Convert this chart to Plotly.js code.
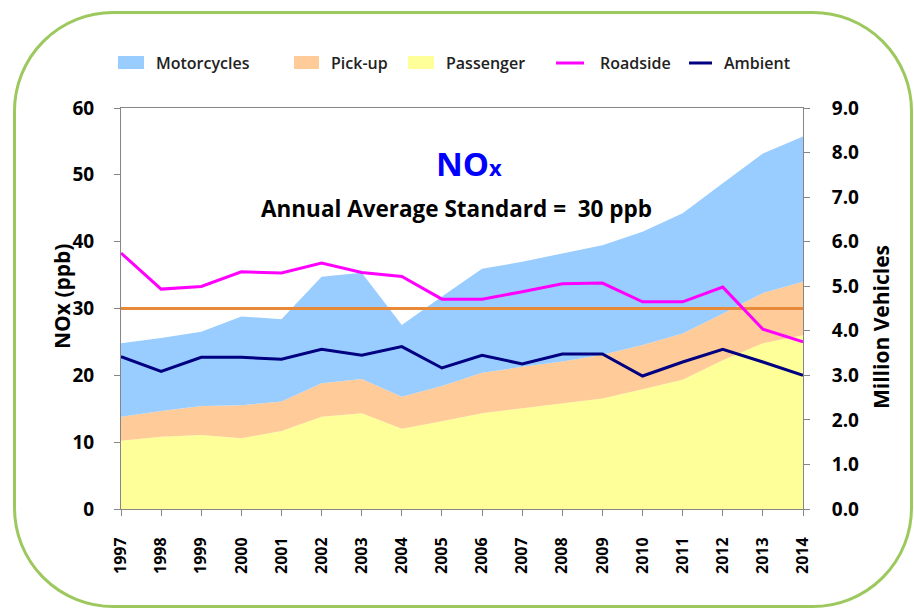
<!DOCTYPE html>
<html><head><meta charset="utf-8">
<script src="https://cdn.plot.ly/plotly-3.0.1.min.js"></script>
<style>
html,body{margin:0;padding:0;background:#fff;}
#wrap{position:relative;width:914px;height:610px;overflow:hidden;}
#frame{position:absolute;left:13px;top:11px;width:900px;height:597px;box-sizing:border-box;border:3px solid #9CC85E;border-radius:100px;}
#chart{position:absolute;left:0;top:0;width:914px;height:610px;}
</style></head><body>
<div id="wrap"><div id="frame"></div><div id="chart"></div></div>
<script>
// ---- data ----
const years = [1997,1998,1999,2000,2001,2002,2003,2004,2005,2006,2007,2008,2009,2010,2011,2012,2013,2014];
// million vehicles (stacked)
const passenger   = [1.53,1.62,1.66,1.59,1.75,2.07,2.15,1.80,1.97,2.15,2.26,2.37,2.48,2.69,2.90,3.34,3.72,3.90];
const pickup      = [0.54,0.58,0.65,0.74,0.66,0.75,0.77,0.72,0.79,0.91,0.93,0.94,0.98,0.99,1.04,1.04,1.13,1.20];
const motorcycles = [1.65,1.64,1.67,1.99,1.85,2.39,2.38,1.61,2.01,2.33,2.36,2.43,2.46,2.54,2.70,2.93,3.13,3.26];
// NOx ppb
const roadside = [38.3,32.9,33.3,35.5,35.3,36.8,35.4,34.8,31.4,31.4,32.5,33.7,33.8,31.0,31.0,33.2,26.9,25.0];
const ambient  = [22.8,20.6,22.7,22.7,22.4,23.9,23.0,24.3,21.1,23.0,21.7,23.2,23.2,19.9,22.0,23.9,22.0,20.0];
const standardYears = [1997, 2014];
const standardValue = [30, 30];
const yearLabels = years.map(String);
const leftTicks = [0,10,20,30,40,50,60];
const rightTicks = [0,1,2,3,4,5,6,7,8,9];

const FONT = '"Open Sans", "Noto Sans", sans-serif';
const C = {moto:'#99CCFF', pick:'#FFCC99', pass:'#FFFF99', road:'#FF00FF', amb:'#000080', std:'#E8893A', axis:'#868686'};

const traces = [
  {x:years, y:passenger, name:'Passenger', type:'scatter', mode:'lines', stackgroup:'veh', fillcolor:C.pass, line:{width:0, color:C.pass}, yaxis:'y'},
  {x:years, y:pickup, name:'Pick-up', type:'scatter', mode:'lines', stackgroup:'veh', fillcolor:C.pick, line:{width:0, color:C.pick}, yaxis:'y'},
  {x:years, y:motorcycles, name:'Motorcycles', type:'scatter', mode:'lines', stackgroup:'veh', fillcolor:C.moto, line:{width:0, color:C.moto}, yaxis:'y'},
  {x:standardYears, y:standardValue, name:'Standard', type:'scatter', mode:'lines', line:{width:3, color:C.std}, yaxis:'y2'},
  {x:years, y:roadside, name:'Roadside', type:'scatter', mode:'lines', line:{width:3, color:C.road}, yaxis:'y2'},
  {x:years, y:ambient, name:'Ambient', type:'scatter', mode:'lines', line:{width:3, color:C.amb}, yaxis:'y2'}
];

const tickFont = {family:FONT, size:19, color:'#000', weight:700};
const xTickFont = {family:FONT, size:16, color:'#000', weight:700};
const px = v => (v-121)/682;
const py = v => (509-v)/401;

const legendItems = [
  {label:'Motorcycles', kind:'rect', color:C.moto, x0:118, x1:144, tx:154},
  {label:'Pick-up', kind:'rect', color:C.pick, x0:294, x1:319, tx:329},
  {label:'Passenger', kind:'rect', color:C.pass, x0:408, x1:434, tx:444},
  {label:'Roadside', kind:'line', color:C.road, x0:556, x1:584, tx:598},
  {label:'Ambient', kind:'line', color:C.amb, x0:689, x1:712, tx:722}
];
const shapes = [];
const annotations = [];
legendItems.forEach(it => {
  if (it.kind === 'rect') {
    shapes.push({type:'rect', xref:'paper', yref:'paper', x0:px(it.x0), x1:px(it.x1), y0:py(69), y1:py(56), fillcolor:it.color, line:{width:0}});
  } else {
    shapes.push({type:'line', xref:'paper', yref:'paper', x0:px(it.x0), x1:px(it.x1), y0:py(63), y1:py(63), line:{width:3, color:it.color}});
  }
  annotations.push({text:it.label, xref:'paper', yref:'paper', x:px(it.tx), y:py(63), xanchor:'left', yanchor:'middle', showarrow:false, font:{family:FONT, size:16, color:'#222', weight:600}});
});
annotations.push({text:'NO<span style="font-size:22px">x</span>', xref:'paper', yref:'paper', x:px(469), y:py(163), xanchor:'center', yanchor:'middle', showarrow:false, font:{family:FONT, size:33, color:'#0000FF', weight:700}});
annotations.push({text:'Annual Average Standard =  30 ppb', xref:'paper', yref:'paper', x:px(456), y:py(208), xanchor:'center', yanchor:'middle', showarrow:false, font:{family:FONT, size:22.5, color:'#000', weight:700}});
annotations.push({text:'NOx (ppb)', xref:'paper', yref:'paper', x:px(62), y:py(296), xanchor:'center', yanchor:'middle', textangle:-90, showarrow:false, font:{family:FONT, size:21, color:'#000', weight:700}});
annotations.push({text:'Million Vehicles', xref:'paper', yref:'paper', x:px(881), y:py(327), xanchor:'center', yanchor:'middle', textangle:-90, showarrow:false, font:{family:FONT, size:21, color:'#000', weight:700}});

const layout = {
  width:914, height:610,
  margin:{l:121, r:111, t:108, b:101, pad:0},
  paper_bgcolor:'rgba(0,0,0,0)', plot_bgcolor:'rgba(0,0,0,0)',
  showlegend:false, hovermode:false,
  xaxis:{range:[1997,2014], tickvals:years, ticktext:yearLabels, tickangle:-90, showline:true, linecolor:C.axis, linewidth:1, mirror:true, ticks:'outside', ticklen:6, tickcolor:C.axis, showgrid:false, zeroline:false, tickfont:xTickFont, ticklabelstandoff:15},
  yaxis:{side:'right', range:[0,9], tickvals:rightTicks, tickformat:'.1f', showline:true, linecolor:C.axis, linewidth:1, ticks:'outside', ticklen:6, tickcolor:C.axis, showgrid:false, zeroline:false, tickfont:tickFont, ticklabelstandoff:18},
  yaxis2:{overlaying:'y', side:'left', range:[0,60], tickvals:leftTicks, showline:true, linecolor:C.axis, linewidth:1, ticks:'outside', ticklen:6, tickcolor:C.axis, showgrid:false, zeroline:false, tickfont:tickFont, ticklabelstandoff:16},
  shapes:shapes,
  annotations:annotations
};
Plotly.newPlot('chart', traces, layout, {staticPlot:true, displayModeBar:false});
</script>
</body></html>
